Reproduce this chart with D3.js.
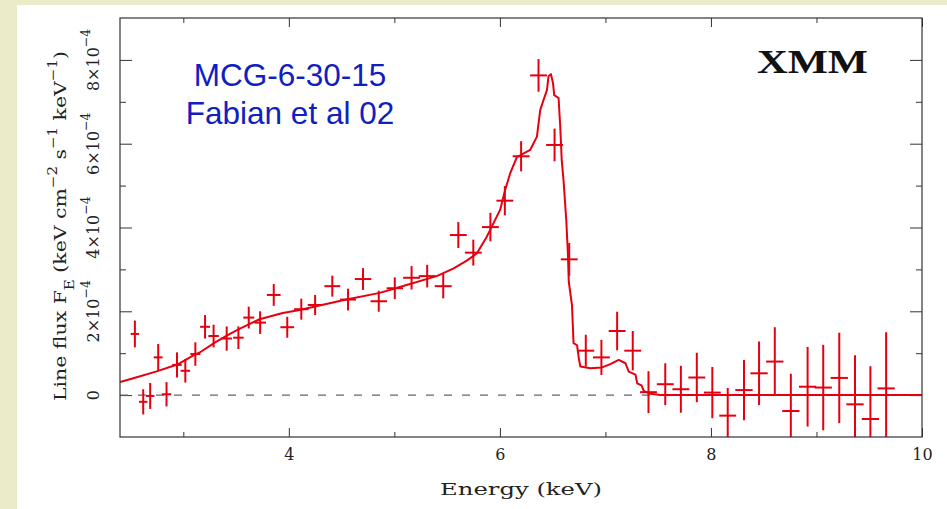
<!DOCTYPE html>
<html><head><meta charset="utf-8">
<script src="https://cdn.jsdelivr.net/npm/d3@7"></script>
<style>html,body{margin:0;padding:0;background:#ebebc9;} svg{display:block}</style>
</head><body><svg id="c" width="947" height="509"></svg>
<script>
// Data (flux in units of 1e-4 keV cm^-2 s^-1 keV^-1)
const energy=[2.541,2.62,2.686,2.762,2.841,2.94,3.019,3.114,3.206,3.287,3.411,3.522,3.62,3.728,3.857,3.985,4.118,4.249,4.412,4.561,4.703,4.852,5.004,5.163,5.311,5.463,5.606,5.748,5.91,6.047,6.201,6.366,6.518,6.657,6.814,6.962,7.111,7.259,7.408,7.567,7.715,7.866,8.013,8.159,8.313,8.456,8.605,8.757,8.916,9.064,9.216,9.365,9.511,9.66];
const energyErr=[0.040,0.040,0.040,0.042,0.045,0.045,0.045,0.047,0.047,0.050,0.050,0.050,0.052,0.055,
0.065,0.065,0.068,0.070,0.075,0.075,0.078,0.078,0.078,
0.080,0.080,0.080,0.080,0.080,0.080,0.080,0.080,0.080,0.080,0.080,0.080,0.080,0.080,0.080,0.080,0.080,0.080,0.080,0.080,0.080,
0.082,0.082,0.082,0.082,0.082,0.082,0.082,0.082,0.082,0.082];
const flux=[1.46,-0.16,-0.02,0.90,0.02,0.72,0.58,0.98,1.63,1.41,1.35,1.37,1.85,1.73,2.39,1.62,2.05,2.15,2.60,2.28,2.77,2.24,2.55,2.80,2.84,2.60,3.82,3.40,4.01,4.64,5.70,7.63,5.97,3.24,1.06,0.90,1.53,1.06,0.07,0.26,0.14,0.42,0.06,-0.49,0.12,0.52,0.80,-0.38,0.20,0.18,0.41,-0.22,-0.57,0.16];
const fluxErr=[0.32,0.30,0.31,0.32,0.29,0.30,0.28,0.28,0.28,0.27,0.29,0.27,0.26,0.27,0.26,0.25,0.25,0.24,0.25,0.26,0.26,0.25,0.26,0.28,0.27,0.29,0.31,0.31,0.34,0.35,0.36,0.39,0.39,0.39,0.38,0.42,0.46,0.47,0.50,0.50,0.56,0.59,0.61,0.66,0.72,0.76,0.82,0.89,0.95,1.02,1.08,1.17,1.26,1.34];
const modelE=[2.40,2.534,2.740,2.943,3.104,3.151,3.310,3.420,3.532,3.722,3.943,4.102,4.260,4.545,4.862,5.052,5.400,5.558,5.686,5.781,5.876,5.923,6.002,6.049,6.097,6.161,6.287,6.351,6.382,6.413,6.446,6.461,6.484,6.503,6.515,6.556,6.572,6.586,6.603,6.629,6.643,6.653,6.683,6.698,6.731,6.746,6.762,6.857,6.968,7.047,7.126,7.190,7.221,7.285,7.301,7.342,7.363,7.427,7.522,10.0];
const modelF=[0.31,0.41,0.56,0.73,0.96,1.01,1.27,1.43,1.58,1.81,1.96,2.03,2.12,2.28,2.44,2.58,2.84,3.02,3.21,3.38,3.78,4.02,4.42,4.89,5.29,5.68,5.85,6.17,6.80,7.04,7.28,7.61,7.66,7.45,7.16,7.09,6.40,5.61,5.13,4.18,3.46,2.70,2.15,1.24,1.19,0.91,0.68,0.64,0.66,0.74,0.84,0.76,0.56,0.49,0.28,0.23,0.10,0.03,0.0,0.0];
const xMajor=[4,6,8,10], xMinor=[3,5,7,9];
const xTickLabels=["4","6","8","10"];
const yMajor=[0,2,4,6,8], yMinor=[1,3,5,7];
const yTickMant=["0","2×10","4×10","6×10","8×10"];

const RED="#e6000f", SERIF="'DejaVu Serif', serif";
const svg=d3.select("#c");
svg.append("rect").attr("width",947).attr("height",509).attr("fill","#ebebc9");
svg.append("rect").attr("x",17).attr("y",5).attr("width",930).attr("height",504).attr("fill","#fff");

const L=120,R=922,T=18,B=437;
const x=d3.scaleLinear().domain([2.4,10]).range([L,R]);
const y=d3.scaleLinear().domain([-1,9]).range([B,T]);

function ticks(gen,tr,vals,size){
  const g=svg.append("g").attr("transform",tr)
    .call(gen.tickValues(vals).tickSize(size).tickFormat(""));
  g.select(".domain").remove();
  g.selectAll("line").attr("stroke","#333").attr("stroke-width",1);
  return g;
}
ticks(d3.axisBottom(x),`translate(0,${B})`,xMinor,-5);
ticks(d3.axisTop(x),`translate(0,${T})`,xMinor,-5);
ticks(d3.axisTop(x),`translate(0,${T})`,xMajor,-9);
ticks(d3.axisLeft(y),`translate(${L},0)`,yMinor,-6);
ticks(d3.axisLeft(y),`translate(${L},0)`,yMajor,-12);
ticks(d3.axisRight(y),`translate(${R},0)`,yMinor,-6);
ticks(d3.axisRight(y),`translate(${R},0)`,yMajor,-12);
// bottom major with labels
const gb=svg.append("g").attr("transform",`translate(0,${B})`)
  .call(d3.axisBottom(x).tickValues(xMajor).tickSize(-9).tickPadding(12)
    .tickFormat((d,i)=>xTickLabels[i]));
gb.select(".domain").remove();
gb.selectAll("line").attr("stroke","#333");
gb.attr("font-family",SERIF).attr("font-size",16);
gb.selectAll("text").attr("fill","#222");

// zero dashed line
svg.append("line").attr("x1",L).attr("x2",R).attr("y1",y(0)).attr("y2",y(0))
  .attr("stroke","#666").attr("stroke-width",1.3).attr("stroke-dasharray","8,10");

// clip
svg.append("clipPath").attr("id","clp").append("rect")
  .attr("x",L).attr("y",T).attr("width",R-L).attr("height",B-T);
const plot=svg.append("g").attr("clip-path","url(#clp)");

// model
plot.append("path").datum(modelE.map((e,i)=>[e,modelF[i]]))
  .attr("d",d3.line().x(d=>x(d[0])).y(d=>y(d[1])))
  .attr("fill","none").attr("stroke",RED).attr("stroke-width",2).attr("stroke-linejoin","round");

// data crosses
const pts=energy.map((e,i)=>({e,xe:energyErr[i],f:flux[i],fe:fluxErr[i]}));
const cr=plot.append("g").attr("stroke",RED).attr("stroke-width",2);
cr.selectAll("line.v").data(pts).join("line").attr("class","v")
  .attr("x1",d=>x(d.e)).attr("x2",d=>x(d.e)).attr("y1",d=>y(d.f-d.fe)).attr("y2",d=>y(d.f+d.fe));
cr.selectAll("line.h").data(pts).join("line").attr("class","h")
  .attr("x1",d=>x(d.e-d.xe)).attr("x2",d=>x(d.e+d.xe)).attr("y1",d=>y(d.f)).attr("y2",d=>y(d.f));

// frame
svg.append("rect").attr("x",L).attr("y",T).attr("width",R-L).attr("height",B-T)
  .attr("fill","none").attr("stroke","#333").attr("stroke-width",1.2);

// y tick labels
yMajor.forEach((v,i)=>{
  const t=svg.append("text").attr("transform",`translate(99,${y(v)}) rotate(-90)`)
    .attr("text-anchor","middle").attr("font-family",SERIF).attr("font-size",16).attr("fill","#222");
  t.append("tspan").text(yTickMant[i]);
  if(v!==0) t.append("tspan").attr("font-size",12.5).attr("dy",-9).text("−4");
});

// y title
const yt=svg.append("text").attr("transform",`translate(66,226) rotate(-90)`)
  .attr("text-anchor","middle").attr("font-family",SERIF).attr("font-size",17).attr("fill","#222")
  .attr("textLength",350).attr("lengthAdjust","spacingAndGlyphs");
yt.append("tspan").text("Line flux F");
yt.append("tspan").attr("font-size",12.5).attr("dy",8).text("E");
yt.append("tspan").attr("dy",-8).text(" (keV cm");
yt.append("tspan").attr("font-size",12.5).attr("dy",-9).text("−2");
yt.append("tspan").attr("dy",9).text(" s");
yt.append("tspan").attr("font-size",12.5).attr("dy",-9).text("−1");
yt.append("tspan").attr("dy",9).text(" keV");
yt.append("tspan").attr("font-size",12.5).attr("dy",-9).text("−1");
yt.append("tspan").attr("dy",9).text(")");

// x title
svg.append("text").attr("x",(L+R)/2).attr("y",495).attr("text-anchor","middle")
  .attr("font-family",SERIF).attr("font-size",16.5).attr("fill","#222")
  .attr("textLength",162).attr("lengthAdjust","spacingAndGlyphs").text("Energy (keV)");

// annotations
const blue="#1020c0";
svg.append("text").attr("x",290).attr("y",86).attr("text-anchor","middle")
  .attr("font-family","'Liberation Sans', Arial, sans-serif").attr("font-size",31.5).attr("fill",blue).text("MCG-6-30-15");
svg.append("text").attr("x",290).attr("y",123.5).attr("text-anchor","middle")
  .attr("font-family","'Liberation Sans', Arial, sans-serif").attr("font-size",31.5).attr("fill",blue).text("Fabian et al 02");
svg.append("text").attr("x",757).attr("y",72.7)
  .attr("font-family","'Liberation Serif', 'Times New Roman', serif").attr("font-weight","bold")
  .attr("font-size",34).attr("fill","#111").attr("textLength",111).attr("lengthAdjust","spacingAndGlyphs").text("XMM");
</script></body></html>
